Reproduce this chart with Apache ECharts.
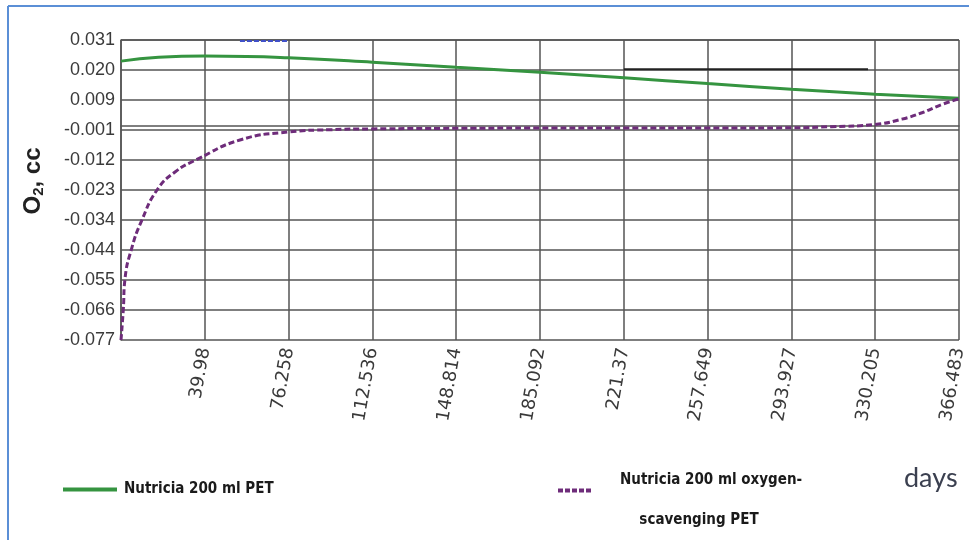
<!DOCTYPE html>
<html>
<head>
<meta charset="utf-8">
<script src="https://cdn.jsdelivr.net/npm/echarts@6/dist/echarts.min.js"></script>
<style>
  html, body { margin: 0; padding: 0; background: #fff; }
  #chart { width: 969px; height: 540px; }
</style>
</head>
<body>
<div id="chart"></div>
<script>
// Oxygen change (cc) over storage days for two bottle types
const xTickLabels = ['3.702', '39.98', '76.258', '112.536', '148.814', '185.092', '221.37', '257.649', '293.927', '330.205', '366.483'];
const yTickLabels = ['-0.077', '-0.066', '-0.055', '-0.044', '-0.034', '-0.023', '-0.012', '-0.001', '0.009', '0.020', '0.031'];

// Nutricia 200 ml PET
const petDays = [3.702, 20, 40, 58, 76.258, 112.536, 148.814, 185.092, 221.37, 257.649, 293.927, 330.205, 366.483];
const petO2   = [0.0234, 0.0248, 0.0252, 0.0251, 0.0246, 0.0230, 0.0212, 0.0194, 0.0174, 0.0153, 0.0133, 0.0115, 0.0100];

// Nutricia 200 ml oxygen-scavenging PET
const scavDays = [3.702, 4.7, 5.43, 8.33, 12.66, 19.29, 27.1, 36.6, 55.2, 76.258, 94.2, 112.536, 148.814, 185.092, 221.37, 257.649, 293.927, 311.4, 330.205, 341.7, 350.4, 359.1, 366.483];
const scavO2   = [-0.077, -0.066, -0.055, -0.044, -0.034, -0.023, -0.0165, -0.012, -0.0050, -0.0021, -0.0013, -0.0010, -0.0008, -0.0007, -0.0007, -0.0007, -0.0006, -0.0002, 0.0006, 0.0025, 0.0048, 0.0078, 0.0098];

// Stray guide segments left in the plot
const blackSegDays = [221.37, 327.1];
const blackSegO2   = [0.0205, 0.0205];
const blueSegDays  = [55.2, 75.6];
const blueSegO2    = [0.0306, 0.0306];

const names = ['Nutricia 200 ml PET', 'Nutricia 200 ml oxygen-scavenging PET'];

const zip = (a, b) => a.map((v, i) => [v, b[i]]);

const xMin = 3.702, xStep = 36.2781;
const yMin = -0.077, yStep = 0.0108;

const chart = echarts.init(document.getElementById('chart'));
const gridColor = '#555555';
const legendFont = '"Liberation Sans Narrow", "DejaVu Sans Condensed", sans-serif';

chart.setOption({
  animation: false,
  backgroundColor: '#ffffff',
  grid: { left: 121, right: 10, top: 40, bottom: 200, containLabel: false },
  xAxis: {
    type: 'value',
    min: xMin,
    max: xMin + 10 * xStep,
    interval: xStep,
    axisLine: { show: true, lineStyle: { color: gridColor, width: 1.5 } },
    axisTick: { show: false },
    splitLine: { show: true, lineStyle: { color: gridColor, width: 1.5 } },
    axisLabel: {
      rotate: 80,
      margin: 8,
      fontFamily: '"DejaVu Sans", sans-serif',
      fontSize: 18,
      color: '#3a3a3a',
      formatter: v => {
        const i = Math.round((v - xMin) / xStep);
        return i === 0 ? '' : xTickLabels[i];
      }
    }
  },
  yAxis: {
    type: 'value',
    min: yMin,
    max: yMin + 10 * yStep,
    interval: yStep,
    axisLine: { show: true, lineStyle: { color: gridColor, width: 1.5 } },
    axisTick: { show: false },
    splitLine: { show: true, lineStyle: { color: gridColor, width: 1.5 } },
    axisLabel: {
      margin: 6,
      fontFamily: '"Liberation Sans", Arial, sans-serif',
      fontSize: 18,
      color: '#3a3a3a',
      formatter: v => yTickLabels[Math.round((v - yMin) / yStep)]
    },
    name: '{o|O}{s|2}{o|, cc}',
    nameLocation: 'middle',
    nameGap: 75,
    nameRotate: 90,
    nameTextStyle: {
      padding: [0, 0, 0, 18],
      rich: {
        o: { fontFamily: '"Liberation Sans", Arial, sans-serif', fontSize: 24, fontWeight: 'bold', color: '#222' },
        s: { fontFamily: '"Liberation Sans", Arial, sans-serif', fontSize: 15, fontWeight: 'bold', color: '#222', verticalAlign: 'bottom', padding: [10, 0, 0, 0] }
      }
    }
  },
  legend: [
    {
      data: [names[0]],
      left: 58,
      top: 477,
      icon: 'rect',
      itemWidth: 54,
      itemHeight: 4,
      textStyle: { fontFamily: legendFont, fontWeight: 'bold', fontSize: 15, color: '#1a1a1a', padding: [0, 0, 0, 2] }
    },
    {
      data: [names[1]],
      left: 553,
      top: 468,
      icon: 'path://M0,0h5v4h-5zM7,0h5v4h-5zM14,0h5v4h-5zM21,0h5v4h-5zM28,0h5v4h-5z',
      itemWidth: 37,
      itemHeight: 4,
      formatter: () => '{t|Nutricia 200 ml oxygen-}',
      textStyle: {
        rich: {
          t: { fontFamily: legendFont, fontWeight: 'bold', fontSize: 15, color: '#1a1a1a', padding: [0, 0, 20, 22] }
        }
      }
    }
  ],
  series: [
    {
      name: names[0],
      type: 'line',
      data: zip(petDays, petO2),
      smooth: 0.5,
      symbol: 'none',
      lineStyle: { color: '#359440', width: 3 },
      itemStyle: { color: '#359440' },
      z: 3
    },
    {
      name: names[1],
      type: 'line',
      data: zip(scavDays, scavO2),
      smooth: 0.5,
      symbol: 'none',
      lineStyle: { color: '#6e2c7a', width: 3, type: [6, 3] },
      itemStyle: { color: '#6e2c7a' },
      z: 3
    },
    {
      type: 'line',
      data: zip(blackSegDays, blackSegO2),
      symbol: 'none',
      silent: true,
      lineStyle: { color: '#222', width: 2 },
      z: 2
    },
    {
      type: 'line',
      data: zip(blueSegDays, blueSegO2),
      symbol: 'none',
      silent: true,
      lineStyle: { color: '#4050c8', width: 2, type: [5, 2] },
      z: 2
    }
  ],
  graphic: [
    { type: 'line', shape: { x1: 8, y1: 6, x2: 969, y2: 6 }, style: { stroke: '#5b8fd6', lineWidth: 2 } },
    { type: 'line', shape: { x1: 8, y1: 6, x2: 8, y2: 540 }, style: { stroke: '#5b8fd6', lineWidth: 2 } },
    { type: 'text', x: 699, y: 513, style: { text: 'scavenging PET', font: 'bold 15px ' + legendFont, fill: '#1a1a1a', textAlign: 'center' } },
    { type: 'text', left: 904, top: 465, style: { text: 'days', font: '27px Lato, "Open Sans", sans-serif', fill: '#3b4050' } }
  ]
});
</script>
</body>
</html>
